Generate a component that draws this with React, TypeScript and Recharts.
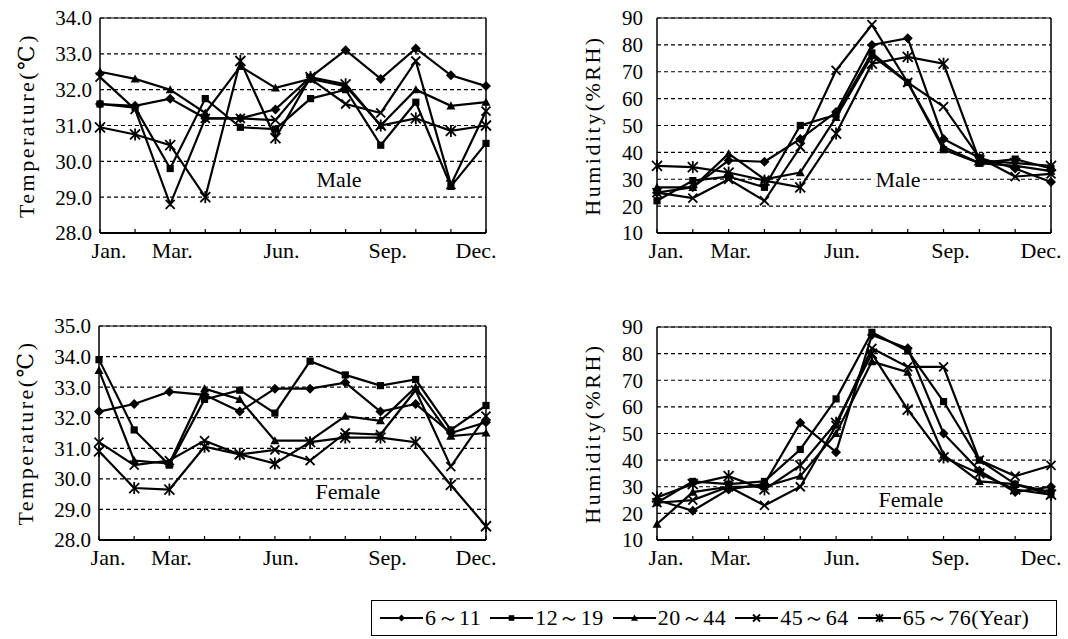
import React from 'react';
import { LineChart, Line, XAxis, YAxis, CartesianGrid, ReferenceLine } from 'recharts';

const FONT = "'Liberation Serif', 'DejaVu Serif', serif";

const months = ['Jan.', 'Feb.', 'Mar.', 'Apr.', 'May', 'Jun.', 'Jul.', 'Aug.', 'Sep.', 'Oct.', 'Nov.', 'Dec.'];
const labeledMonths = ['Jan.', 'Mar.', 'Jun.', 'Sep.', 'Dec.'];
const groupNames = ['6～11', '12～19', '20～44', '45～64', '65～76(Year)'];
const markerShapes = ['diamond', 'square', 'triangle', 'cross', 'asterisk'];

const maleTempTicks = [28, 29, 30, 31, 32, 33, 34];
const femaleTempTicks = [28, 29, 30, 31, 32, 33, 34, 35];
const humidityTicks = [10, 20, 30, 40, 50, 60, 70, 80, 90];

// Male temperature (°C)
const maleTemp6to11 = [31.6, 31.55, 31.75, 31.2, 31.2, 31.45, 32.35, 33.1, 32.3, 33.15, 32.4, 32.1];
const maleTemp12to19 = [31.6, 31.5, 29.8, 31.75, 30.95, 30.9, 31.75, 32.0, 30.45, 31.65, 29.3, 30.5];
const maleTemp20to44 = [32.5, 32.3, 32.0, 31.35, 32.65, 32.05, 32.3, 32.1, 31.0, 32.0, 31.55, 31.65];
const maleTemp45to64 = [32.35, 31.45, 28.8, 31.2, 31.2, 31.15, 32.3, 31.6, 31.35, 32.8, 29.35, 31.4];
const maleTemp65to76 = [30.95, 30.75, 30.45, 29.0, 32.8, 30.65, 32.35, 32.15, 31.0, 31.2, 30.85, 31.0];

// Male humidity (%RH)
const maleHum6to11 = [25, 27, 37, 36.5, 45, 55, 80, 82.5, 45, 38, 34, 29];
const maleHum12to19 = [22, 29.5, 31, 27, 50, 54, 77, 66, 41, 36, 37.5, 34];
const maleHum20to44 = [27, 27, 39.5, 30, 32.5, 53, 76, 66, 42, 36, 35, 33];
const maleHum45to64 = [25, 23, 30, 22, 42, 70.5, 87.5, 66, 57, 38, 31, 32];
const maleHum65to76 = [35, 34.5, 32.5, 29.5, 27, 47, 73, 75.5, 73, 37, 36, 35];

// Female temperature (°C)
const femaleTemp6to11 = [32.2, 32.45, 32.85, 32.75, 32.2, 32.95, 32.95, 33.15, 32.2, 32.45, 31.5, 31.85];
const femaleTemp12to19 = [33.9, 31.6, 30.45, 32.6, 32.9, 32.15, 33.85, 33.4, 33.05, 33.25, 31.6, 32.4];
const femaleTemp20to44 = [33.55, 30.6, 30.5, 32.95, 32.6, 31.25, 31.25, 32.05, 31.9, 33.0, 31.4, 31.5];
const femaleTemp45to64 = [31.2, 30.45, 30.6, 31.25, 30.8, 30.95, 30.6, 31.5, 31.45, 32.9, 30.4, 32.05];
const femaleTemp65to76 = [30.9, 29.7, 29.65, 31.05, 30.8, 30.5, 31.2, 31.35, 31.35, 31.2, 29.8, 28.45];

// Female humidity (%RH)
const femaleHum6to11 = [25, 21, 29, 31, 54, 43, 87, 82, 50, 36, 28, 30];
const femaleHum12to19 = [24, 32, 31, 32, 44, 63, 88, 81, 62, 40, 31, 28];
const femaleHum20to44 = [16, 28, 30, 30, 34, 50, 77, 73, 42, 32, 31, 27];
const femaleHum45to64 = [24, 25, 30, 23, 30, 53, 82, 75, 75, 40, 34, 38];
const femaleHum65to76 = [26, 31, 34, 29, 38, 54, 80, 59, 41, 35, 29, 27];

const monthLabelShift: Record<string, number> = { 'Jan.': 9, 'Mar.': 2, 'Jun.': 6, 'Sep.': 7, 'Dec.': -10 };

function Marker({ shape, cx, cy, s }: { shape: string; cx: number; cy: number; s: number }) {
  switch (shape) {
    case 'diamond':
      return <polygon points={`${cx},${cy - s} ${cx + s},${cy} ${cx},${cy + s} ${cx - s},${cy}`} fill="#000" />;
    case 'square':
      return <rect x={cx - s * 0.8} y={cy - s * 0.8} width={s * 1.6} height={s * 1.6} fill="#000" />;
    case 'triangle':
      return <polygon points={`${cx},${cy - s} ${cx + s},${cy + s * 0.8} ${cx - s},${cy + s * 0.8}`} fill="#000" />;
    case 'cross':
      return (
        <g stroke="#000" strokeWidth={1.8}>
          <line x1={cx - s} y1={cy - s} x2={cx + s} y2={cy + s} />
          <line x1={cx - s} y1={cy + s} x2={cx + s} y2={cy - s} />
        </g>
      );
    default:
      return (
        <g stroke="#000" strokeWidth={1.8}>
          <line x1={cx - s} y1={cy - s} x2={cx + s} y2={cy + s} />
          <line x1={cx - s} y1={cy + s} x2={cx + s} y2={cy - s} />
          <line x1={cx} y1={cy - s * 1.2} x2={cx} y2={cy + s * 1.2} />
        </g>
      );
  }
}

const makeDot = (shape: string) => (props: any) => {
  const { cx, cy, index } = props;
  if (cx == null || cy == null) return <g key={`${shape}-e-${index}`} />;
  return (
    <g key={`${shape}-${index}`}>
      <Marker shape={shape} cx={cx} cy={cy} s={shape === 'asterisk' || shape === 'diamond' ? 5 : 4.5} />
    </g>
  );
};

function MonthTick(props: any) {
  const { x, y, payload } = props;
  const v = payload && payload.value;
  if (!labeledMonths.includes(v)) return <g />;
  return (
    <text
      x={x + (monthLabelShift[v] || 0)}
      y={y}
      dy="0.71em"
      textAnchor="middle"
      fontSize={22}
      fill="#000"
      style={{ fontFamily: FONT }}
    >
      {v}
    </text>
  );
}

function YTitle({ text, cx, cy }: any) {
  return (
    <text
      x={cx}
      y={cy}
      transform={`rotate(-90 ${cx} ${cy})`}
      textAnchor="middle"
      dominantBaseline="central"
      fontSize={22}
      letterSpacing={2.5}
      fill="#000"
      style={{ fontFamily: FONT }}
    >
      {text}
    </text>
  );
}

type PanelProps = {
  left: number;
  top: number;
  width: number;
  height: number;
  marginTop: number;
  marginRight: number;
  yAxisWidth: number;
  yTickMargin: number;
  ticks: number[];
  decimals: number;
  series: number[][];
  title: string;
  titleX: number;
  tag: string;
  tagX: number;
  tagY: number;
  tagBg?: boolean;
};

function Panel(p: PanelProps) {
  const data = months.map((m, i) => {
    const row: any = { month: m };
    p.series.forEach((s, k) => {
      row['s' + k] = s[i];
    });
    return row;
  });
  const yMin = p.ticks[0];
  const yMax = p.ticks[p.ticks.length - 1];
  const plotTop = p.marginTop;
  const plotBottom = p.height - 37;
  return (
    <div style={{ position: 'absolute', left: p.left, top: p.top, width: p.width, height: p.height }}>
      <LineChart
        width={p.width}
        height={p.height}
        data={data}
        margin={{ top: p.marginTop, right: p.marginRight, bottom: 0, left: 0 }}
      >
        <CartesianGrid vertical={false} stroke="#000" strokeDasharray="4 3" strokeWidth={1.2} />
        <XAxis
          dataKey="month"
          interval={0}
          height={37}
          tickSize={-4}
          tickMargin={13}
          axisLine={{ stroke: '#000', strokeWidth: 2 }}
          tickLine={{ stroke: '#000', strokeWidth: 1.2 }}
          tick={<MonthTick />}
        />
        <YAxis
          type="number"
          domain={[yMin, yMax]}
          ticks={p.ticks}
          interval={0}
          width={p.yAxisWidth}
          tickLine={false}
          tickSize={0}
          tickMargin={p.yTickMargin}
          axisLine={{ stroke: '#000', strokeWidth: 1.5 }}
          tick={{ fill: '#000', fontSize: 21, fontFamily: FONT }}
          tickFormatter={(v: number) => v.toFixed(p.decimals)}
          label={<YTitle text={p.title} cx={p.titleX} cy={(plotTop + plotBottom) / 2} />}
        />
        <ReferenceLine y={yMax} stroke="#000" strokeWidth={1} />
        <ReferenceLine x="Dec." stroke="#000" strokeWidth={1.5} />
        {p.series.map((_, k) => (
          <Line
            key={k}
            type="linear"
            dataKey={'s' + k}
            stroke="#000"
            strokeWidth={2.2}
            dot={makeDot(markerShapes[k])}
            activeDot={false}
            isAnimationActive={false}
          />
        ))}
      </LineChart>
      <div
        style={{
          position: 'absolute',
          left: p.tagX - p.left,
          top: p.tagY - p.top,
          transform: 'translate(-50%, -50%)',
          fontSize: 22,
          lineHeight: '24px',
          fontFamily: FONT,
          color: '#000',
          background: p.tagBg ? '#fff' : 'transparent',
          padding: '0 1px',
          whiteSpace: 'nowrap',
        }}
      >
        {p.tag}
      </div>
    </div>
  );
}

function LegendIcon({ shape }: { shape: string }) {
  return (
    <svg width={43} height={16} style={{ display: 'block' }}>
      <line x1={0} y1={8} x2={43} y2={8} stroke="#000" strokeWidth={2} />
      <Marker shape={shape} cx={21.5} cy={8} s={3.5} />
    </svg>
  );
}

function Legend() {
  return (
    <div
      style={{
        position: 'absolute',
        left: 371,
        top: 600,
        width: 686,
        height: 36,
        border: '1.5px solid #000',
        boxSizing: 'border-box',
        display: 'flex',
        alignItems: 'center',
        paddingLeft: 8,
        fontFamily: FONT,
        fontSize: 22,
        color: '#000',
      }}
    >
      {groupNames.map((name, k) => (
        <div key={name} style={{ display: 'flex', alignItems: 'center', marginRight: 9 }}>
          <LegendIcon shape={markerShapes[k]} />
          <span style={{ marginLeft: 2, letterSpacing: 0.5, whiteSpace: 'nowrap' }}>{name}</span>
        </div>
      ))}
    </div>
  );
}

export default function App() {
  return (
    <div
      style={{
        position: 'absolute',
        left: 0,
        top: 0,
        width: 1068,
        height: 639,
        background: '#fff',
        overflow: 'hidden',
      }}
    >
      <Panel
        left={0}
        top={0}
        width={540}
        height={270}
        marginTop={18}
        marginRight={54}
        yAxisWidth={100}
        yTickMargin={8}
        ticks={maleTempTicks}
        decimals={1}
        series={[maleTemp6to11, maleTemp12to19, maleTemp20to44, maleTemp45to64, maleTemp65to76]}
        title="Temperature(℃)"
        titleX={26}
        tag="Male"
        tagX={339}
        tagY={180}
      />
      <Panel
        left={540}
        top={0}
        width={528}
        height={270}
        marginTop={18}
        marginRight={17}
        yAxisWidth={117}
        yTickMargin={14}
        ticks={humidityTicks}
        decimals={0}
        series={[maleHum6to11, maleHum12to19, maleHum20to44, maleHum45to64, maleHum65to76]}
        title="Humidity(%RH)"
        titleX={52}
        tag="Male"
        tagX={898}
        tagY={180}
        tagBg
      />
      <Panel
        left={0}
        top={290}
        width={540}
        height={287}
        marginTop={36}
        marginRight={54}
        yAxisWidth={99}
        yTickMargin={8}
        ticks={femaleTempTicks}
        decimals={1}
        series={[femaleTemp6to11, femaleTemp12to19, femaleTemp20to44, femaleTemp45to64, femaleTemp65to76]}
        title="Temperature(℃)"
        titleX={25}
        tag="Female"
        tagX={348}
        tagY={492}
      />
      <Panel
        left={540}
        top={290}
        width={528}
        height={287}
        marginTop={37}
        marginRight={17}
        yAxisWidth={117}
        yTickMargin={14}
        ticks={humidityTicks}
        decimals={0}
        series={[femaleHum6to11, femaleHum12to19, femaleHum20to44, femaleHum45to64, femaleHum65to76]}
        title="Humidity(%RH)"
        titleX={52}
        tag="Female"
        tagX={911}
        tagY={500}
      />
      <Legend />
    </div>
  );
}
